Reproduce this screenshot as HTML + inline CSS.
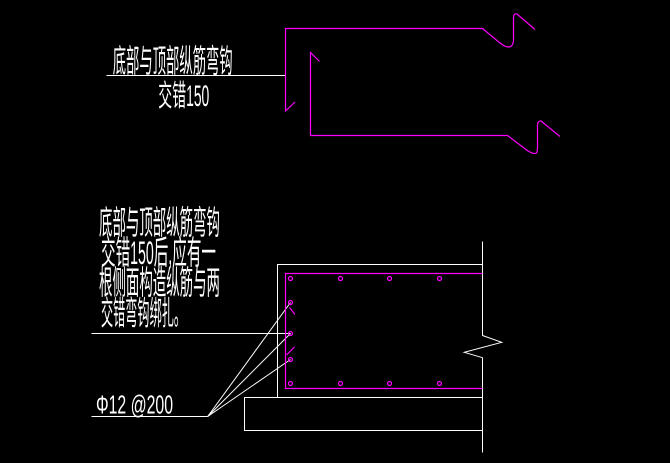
<!DOCTYPE html>
<html><head><meta charset="utf-8"><style>
html,body{margin:0;padding:0;background:#000;}
svg{display:block;}
text{fill:#fff;font-family:"Liberation Sans","Noto Sans CJK SC",sans-serif;}
</style></head><body>
<svg width="670" height="463" viewBox="0 0 670 463" xmlns="http://www.w3.org/2000/svg">
<rect width="670" height="463" fill="#000"/>
<!-- top figure -->
<g fill="none" stroke="#ff00ff" stroke-width="1.2">
<path d="M295,102 L285.5,111 L285.5,28.5 L482.5,28.5 L500,43 Q507,48.5 511,46.5 Q513.5,44 513.5,40 L513.5,17 Q514,13 517,14 L535,29.5"/>
<path d="M319.5,61.5 L310.5,52.5 L310.5,135.5 L507.5,135.5 L528,151 Q534,154.5 536.5,153 Q537.5,151 537.5,148 L537.5,125 Q538,120.5 541,121 L560,136.5"/>
</g>
<line x1="106.5" y1="75.5" x2="285" y2="75.5" stroke="#fff" stroke-width="1"/>
<text x="112.7" y="72" font-size="32" textLength="120" lengthAdjust="spacingAndGlyphs">底部与顶部纵筋弯钩</text>
<text x="158.3" y="106" font-size="30" textLength="51" lengthAdjust="spacingAndGlyphs">交错<tspan font-size="30">150</tspan></text>

<!-- bottom figure -->
<g fill="none" stroke="#fff" stroke-width="1">
<path d="M482.5,241.5 L482.5,335.5 L501.7,342.3 L464.3,352.3 L482.5,357.7 L482.5,452.5"/>
<path d="M482.5,264.5 L277.5,264.5 L277.5,397.5"/>
<path d="M482.5,397.5 L244.5,397.5 L244.5,430.5 L482.5,430.5"/>
<line x1="91.5" y1="333.5" x2="290.5" y2="333.5"/>
<line x1="91.5" y1="416.5" x2="207.7" y2="416.5"/>
<line x1="207.7" y1="416.5" x2="290.5" y2="302.5"/>
<line x1="207.7" y1="416.5" x2="290.5" y2="333.5"/>
<line x1="207.7" y1="416.5" x2="290.5" y2="359.5"/>
</g>
<g fill="none" stroke="#ff00ff" stroke-width="1.2">
<path d="M482.5,273.5 L285.5,273.5 L285.5,388.5 L482.5,388.5"/>
<circle cx="290.5" cy="278.5" r="2"/>
<circle cx="340.5" cy="278.5" r="2"/>
<circle cx="389.5" cy="278.5" r="2"/>
<circle cx="439.5" cy="278.5" r="2"/>
<circle cx="290.5" cy="383.5" r="2"/>
<circle cx="340.5" cy="383.5" r="2"/>
<circle cx="389.5" cy="383.5" r="2"/>
<circle cx="439.5" cy="383.5" r="2"/>
<circle cx="290.5" cy="302.5" r="2"/>
<circle cx="290.5" cy="333.5" r="2"/>
<circle cx="290.5" cy="359.5" r="2"/>
<line x1="289.5" y1="307.5" x2="295" y2="314.5"/>
<line x1="286.5" y1="355" x2="294.5" y2="347"/>
</g>
<text x="99" y="234" font-size="33" textLength="121" lengthAdjust="spacingAndGlyphs">底部与顶部纵筋弯钩</text>
<text x="101" y="264" font-size="33" textLength="115" lengthAdjust="spacingAndGlyphs">交错<tspan font-size="32">150</tspan>后,应有一</text>
<text x="99" y="294" font-size="33" textLength="121" lengthAdjust="spacingAndGlyphs">根侧面构造纵筋与两</text>
<text x="101" y="324.5" font-size="33" textLength="85" lengthAdjust="spacingAndGlyphs">交错弯钩绑扎。</text>
<text x="96" y="413.5" font-size="26" textLength="77" lengthAdjust="spacingAndGlyphs">Φ12 @200</text>
</svg>
</body></html>
